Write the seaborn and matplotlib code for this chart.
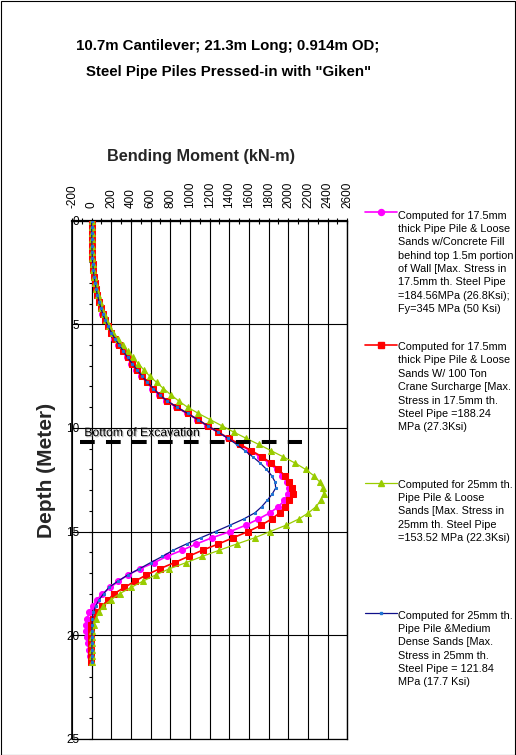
import matplotlib
matplotlib.use("Agg")
import matplotlib.pyplot as plt
import matplotlib.patheffects as pe
from matplotlib.lines import Line2D
from matplotlib.patches import Rectangle
from matplotlib.ticker import MultipleLocator
import seaborn as sns

# Depth below top of wall (m), one station every 0.3 m along the 21.3 m pile
depth = [0.0, 0.3, 0.6, 0.9, 1.2, 1.5, 1.8, 2.1, 2.4, 2.7,
         3.0, 3.3, 3.6, 3.9, 4.2, 4.5, 4.8, 5.1, 5.4, 5.7,
         6.0, 6.3, 6.6, 6.9, 7.2, 7.5, 7.8, 8.1, 8.4, 8.7,
         9.0, 9.3, 9.6, 9.9, 10.2, 10.5, 10.8, 11.1, 11.4, 11.7,
         12.0, 12.3, 12.6, 12.9, 13.2, 13.5, 13.8, 14.1, 14.4, 14.7,
         15.0, 15.3, 15.6, 15.9, 16.2, 16.5, 16.8, 17.1, 17.4, 17.7,
         18.0, 18.3, 18.6, 18.9, 19.2, 19.5, 19.8, 20.1, 20.4, 20.7,
         21.0, 21.3]

# Bending moment (kN-m) at each station
moment_17mm_concrete_fill = [0, 0, 1, 2, 3, 4, 6, 10, 16, 24,
                             34, 45, 58, 73, 90, 110, 134, 163, 195, 232,
                             272, 314, 358, 405, 454, 504, 558, 618, 682, 760,
                             860, 968, 1075, 1175, 1280, 1390, 1500, 1610, 1715, 1805,
                             1880, 1940, 1982, 2002, 1998, 1960, 1900, 1812, 1695, 1565,
                             1410, 1225, 1065, 922, 765, 638, 490, 367, 272, 190,
                             110, 52, 12, -25, -47, -56, -56, -50, -38, -26,
                             -16, -8]
moment_17mm_crane = [0, 0, 1, 2, 3, 4, 7, 11, 17, 25,
                     35, 46, 59, 75, 93, 113, 138, 168, 200, 238,
                     280, 322, 366, 413, 462, 512, 566, 628, 690, 768,
                     868, 975, 1080, 1180, 1285, 1395, 1510, 1625, 1735, 1825,
                     1900, 1962, 2008, 2035, 2045, 2012, 1966, 1912, 1830, 1722,
                     1592, 1440, 1290, 1128, 985, 843, 692, 554, 440, 333,
                     228, 168, 102, 52, 18, -2, -8, -9, -8, -6,
                     -4, -2]
moment_25mm_loose = [0, 0, 1, 2, 3, 5, 8, 12, 18, 26,
                     37, 49, 63, 80, 99, 121, 148, 180, 220, 265,
                     316, 366, 420, 475, 530, 590, 660, 730, 805, 885,
                     975, 1085, 1205, 1325, 1445, 1570, 1700, 1825, 1950, 2070,
                     2175, 2258, 2318, 2350, 2360, 2330, 2282, 2205, 2105, 1975,
                     1815, 1660, 1478, 1300, 1125, 962, 790, 650, 520, 400,
                     285, 195, 118, 75, 45, 22, 8, 3, 2, 1,
                     1, 0]
moment_25mm_medium = [0, 0, 1, 2, 3, 4, 7, 11, 17, 25,
                      35, 46, 59, 75, 93, 113, 138, 168, 200, 238,
                      280, 322, 366, 413, 462, 512, 566, 628, 690, 768,
                      868, 975, 1080, 1180, 1285, 1385, 1475, 1560, 1640, 1715,
                      1778, 1830, 1865, 1872, 1835, 1785, 1730, 1660, 1545, 1405,
                      1260, 1110, 965, 830, 720, 600, 485, 367, 265, 175,
                      122, 75, 40, 18, 8, 4, 3, 3, 3, 3,
                      3, 3]

series_labels = [
    "Computed for 17.5mm\nthick Pipe Pile & Loose\nSands w/Concrete Fill\n"
    "behind top 1.5m portion\nof Wall [Max. Stress in\n17.5mm th. Steel Pipe\n"
    "=184.56MPa (26.8Ksi);\nFy=345 MPa (50 Ksi)",
    "Computed for 17.5mm\nthick Pipe Pile & Loose\nSands W/ 100 Ton\n"
    "Crane Surcharge [Max.\nStress in 17.5mm th.\nSteel Pipe =188.24\nMPa (27.3Ksi)",
    "Computed for 25mm th.\nPipe Pile & Loose\nSands [Max. Stress in\n"
    "25mm th. Steel Pipe\n=153.52 MPa (22.3Ksi)",
    "Computed for 25mm th.\nPipe Pile &Medium\nDense Sands [Max.\n"
    "Stress in 25mm th.\nSteel Pipe = 121.84\nMPa (17.7 Ksi)",
]

excavation_depth = 10.7
excavation_span = [-118, 2143]

x_ticks = list(range(-200, 2601, 200))
y_ticks = [0, 5, 10, 15, 20, 25]

sns.set_theme(style="white")
plt.rcParams["font.family"] = ["Liberation Sans", "DejaVu Sans"]
plt.rcParams["text.color"] = "black"

W, H = 516, 755
fig = plt.figure(figsize=(W / 100, H / 100), dpi=100)
fig.patch.set_facecolor("white")
ax = fig.add_axes([72 / W, 1 - 738.7 / H, 275.3 / W, 518 / H])

styles = [
    dict(color="#ff00ff", marker="o", markersize=4.3, linewidth=1.2,
         markerfacecolor="#ff00ff", markeredgecolor="#ff00ff", zorder=3),
    dict(color="#ff0000", marker="s", markersize=4.6, linewidth=1.2,
         markerfacecolor="#ff0000", markeredgecolor="#ff0000", zorder=4),
    dict(color="#99cc00", marker="^", markersize=4.8, linewidth=0.9,
         markerfacecolor="#99cc00", markeredgecolor="#99cc00", zorder=5),
    dict(color="#10108a", marker="s", markersize=2.0, linewidth=0.9,
         markerfacecolor="#1f74d4", markeredgecolor="#1f74d4", zorder=6),
]
series = [moment_17mm_concrete_fill, moment_17mm_crane,
          moment_25mm_loose, moment_25mm_medium]

for values, st in zip(series, styles):
    sns.lineplot(x=values, y=depth, sort=False, estimator=None, ax=ax, **st)

# Axis limits: depth grows downward, moment scale on top
ax.set_xlim(-200, 2600)
ax.set_ylim(25, 0)

ax.xaxis.tick_top()
ax.set_xticks(x_ticks)
ax.set_xticklabels([str(v) for v in x_ticks], rotation=90)
ax.xaxis.set_minor_locator(MultipleLocator(100))
ax.tick_params(axis="x", which="both", top=True, bottom=False, direction="inout",
               length=4, width=0.8, color="black", pad=7.1, labelsize=8.5,
               labelcolor="black")

ax.set_yticks(y_ticks)
ax.set_yticklabels([str(v) for v in y_ticks])
ax.yaxis.set_minor_locator(MultipleLocator(1))
ax.tick_params(axis="y", which="both", left=True, direction="out", length=2.2,
               width=0.8, color="black", pad=6.7, labelsize=8.5, labelcolor="black")

ax.grid(True, which="major", color="black", linewidth=0.8)
ax.set_axisbelow(True)

ax.spines["left"].set_position(("data", 0))
for name, lw in [("left", 0.8), ("top", 1.6), ("right", 1.0), ("bottom", 0.9)]:
    ax.spines[name].set_color("black")
    ax.spines[name].set_linewidth(lw)
ax.axvline(-200, color="black", linewidth=1.2, clip_on=False, zorder=1)

ax.set_xlabel("Bending Moment (kN-m)", fontsize=11.7, fontweight="bold")
ax.xaxis.set_label_position("top")
ax.xaxis.set_label_coords((201 - 72) / 275.3, (738.7 - 157) / 518)
ax.xaxis.label.set_va("center")

ax.set_ylabel("Depth (Meter)", fontsize=15, fontweight="bold")
ax.yaxis.set_label_coords((46 - 72) / 275.3, (738.7 - 470) / 518)
ax.yaxis.label.set_va("center")

# Bottom of excavation marker
ax.plot(excavation_span, [excavation_depth, excavation_depth], color="black",
        linewidth=2.9, linestyle=(0, (10.6 / 2.9, 8.1 / 2.9)),
        dash_capstyle="butt", zorder=7)
ax.text(-75, 10.25, "Bottom of Excavation", fontsize=8.8, ha="left", va="center",
        color="black", zorder=8,
        path_effects=[pe.withSimplePatchShadow(offset=(0.8, -0.8),
                                               shadow_rgbFace="gray", alpha=0.6)])

# Titles
fig.text(228 / W, 1 - 46 / H, "10.7m Cantilever; 21.3m Long; 0.914m OD;",
         ha="center", va="center", fontsize=10.8, fontweight="bold")
fig.text(229 / W, 1 - 72 / H, 'Steel Pipe Piles Pressed-in with "Giken"',
         ha="center", va="center", fontsize=10.8, fontweight="bold")

# Key on the right-hand side
marker_rows = [211.7, 345, 483.3, 613.3]
text_tops = [210.6, 342.1, 479.6, 610.6]
for st, label, ym, yt in zip(styles, series_labels, marker_rows, text_tops):
    yf = 1 - ym / H
    fig.add_artist(Line2D([365 / W, 396.7 / W], [yf, yf], transform=fig.transFigure,
                          color=st["color"], linewidth=st["linewidth"]))
    fig.add_artist(Line2D([380.5 / W], [yf], transform=fig.transFigure,
                          linestyle="none", marker=st["marker"],
                          markersize=st["markersize"],
                          markerfacecolor=st["markerfacecolor"],
                          markeredgecolor=st["markeredgecolor"]))
    fig.text(398 / W, 1 - yt / H, label, ha="left", va="top",
             fontsize=7.8, linespacing=1.42, color="black")

fig.add_artist(Rectangle((0.5 / W, 0.5 / H), 1 - 1.5 / W, 1 - 1.5 / H,
                         transform=fig.transFigure, fill=False,
                         edgecolor="black", linewidth=0.8))

fig.savefig("out.png", dpi=100, facecolor="white")
